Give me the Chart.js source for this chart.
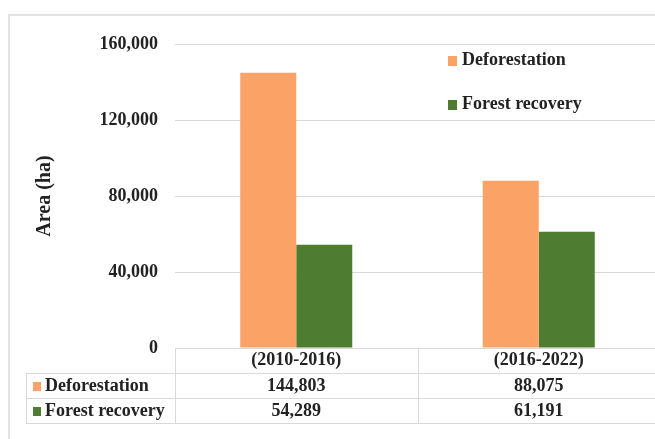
<!DOCTYPE html>
<html>
<head>
<meta charset="utf-8">
<script src="https://cdn.jsdelivr.net/npm/chart.js@4"></script>
<style>
  html, body { margin: 0; padding: 0; background: #fff; overflow: hidden; }
  #wrap { width: 664px; height: 439px; }
</style>
</head>
<body>
<div id="wrap"><canvas id="myChart" width="664" height="439"></canvas></div>
<script>
const periods = ['(2010-2016)', '(2016-2022)'];
const deforestation = [144803, 88075];
const forestRecovery = [54289, 61191];
const yTicks = [0, 40000, 80000, 120000, 160000];

const orange = '#FBA267';
const green = '#4E7D31';
const lineColor = '#d9d9d9';
const textColor = '#222';
const boldFont = 'bold 18px "Liberation Serif", "Times New Roman", serif';

const fmt = v => v.toLocaleString('en-US');

/* legend + data table drawn under the plot */
const tablePlugin = {
    id: 'dataTable',
    beforeDraw(chart) {
        const c = chart.ctx;
        c.save();
        c.strokeStyle = '#e3e3e3';
        c.lineWidth = 2;
        c.strokeRect(9, 15, 700, 460);
        c.restore();
    },
    afterDraw(chart) {
        const c = chart.ctx;
        const area = chart.chartArea;
        const xs = chart.scales.x;
        const top = area.bottom;
        const rows = [top, top + 25, top + 50, top + 75];
        const tableLeft = 26;
        const mid = (xs.getPixelForValue(0) + xs.getPixelForValue(1)) / 2;

        c.save();
        c.strokeStyle = lineColor;
        c.lineWidth = 1;
        c.beginPath();
        // horizontal lines
        c.moveTo(area.left, rows[0] + 0.5); c.lineTo(area.right, rows[0] + 0.5);
        for (let i = 1; i < rows.length; i++) {
            c.moveTo(tableLeft, rows[i] + 0.5); c.lineTo(area.right, rows[i] + 0.5);
        }
        // vertical lines
        c.moveTo(tableLeft + 0.5, rows[1]); c.lineTo(tableLeft + 0.5, rows[3]);
        c.moveTo(area.left + 0.5, rows[0]); c.lineTo(area.left + 0.5, rows[3]);
        c.moveTo(Math.round(mid) + 0.5, rows[0]); c.lineTo(Math.round(mid) + 0.5, rows[3]);
        c.stroke();

        c.font = boldFont;
        c.fillStyle = textColor;
        c.textBaseline = 'middle';
        c.textAlign = 'center';
        periods.forEach((p, i) => {
            const x = xs.getPixelForValue(i);
            c.fillText(p, x, rows[0] + 12);
            c.fillText(fmt(deforestation[i]), x, rows[1] + 13);
            c.fillText(fmt(forestRecovery[i]), x, rows[2] + 13);
        });

        // row labels
        c.textAlign = 'left';
        chart.data.datasets.forEach((ds, i) => {
            const y = rows[i + 1] + 13;
            c.fillStyle = ds.backgroundColor;
            c.fillRect(33, y - 4, 8, 9);
            c.fillStyle = textColor;
            c.fillText(ds.label, 45, y);
        });

        // legend inside plot
        chart.data.datasets.forEach((ds, i) => {
            const y = 60 + i * 44;
            c.fillStyle = ds.backgroundColor;
            c.fillRect(448, y - 4, 9, 10);
            c.fillStyle = textColor;
            c.fillText(ds.label, 462, y);
        });
        c.restore();
    }
};

new Chart(document.getElementById('myChart'), {
    type: 'bar',
    data: {
        labels: periods,
        datasets: [{
            label: 'Deforestation',
            data: deforestation,
            backgroundColor: orange,
            barPercentage: 1,
            categoryPercentage: 0.462
        }, {
            label: 'Forest recovery',
            data: forestRecovery,
            backgroundColor: green,
            barPercentage: 1,
            categoryPercentage: 0.462
        }]
    },
    options: {
        responsive: false,
        animation: false,
        layout: { padding: { top: 44, bottom: 91, left: 0, right: 4 } },
        plugins: {
            legend: { display: false },
            tooltip: { enabled: false }
        },
        scales: {
            x: { display: false },
            y: {
                min: 0,
                max: 160000,
                afterBuildTicks: scale => { scale.ticks = yTicks.map(v => ({ value: v })); },
                afterFit: scale => { scale.width = 175; },
                border: { display: false },
                grid: { color: lineColor, drawTicks: false },
                ticks: {
                    padding: 17,
                    color: textColor,
                    font: { family: '"Liberation Serif", "Times New Roman", serif', size: 18, weight: 'bold' },
                    callback: v => fmt(v)
                },
                title: {
                    display: true,
                    text: 'Area (ha)',
                    color: textColor,
                    padding: { top: 33, bottom: 0 },
                    font: { family: '"Liberation Serif", "Times New Roman", serif', size: 20, weight: 'bold' }
                }
            }
        }
    },
    plugins: [tablePlugin]
});
</script>
</body>
</html>
